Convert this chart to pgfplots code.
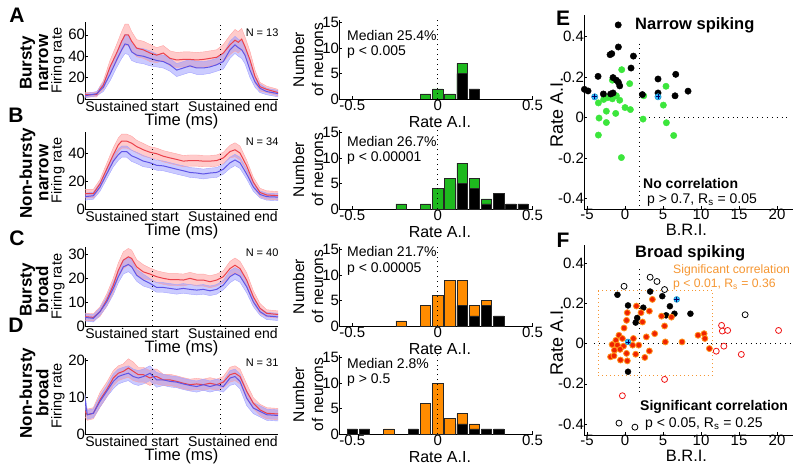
\documentclass[border=0pt]{standalone}
\usepackage{fontspec}
\setmainfont{Liberation Sans}
\usepackage{pgfplots}
\usepackage{pgfplotstable}
\pgfplotsset{compat=1.18}
\usepgfplotslibrary{fillbetween}

\definecolor{lred}{RGB}{235,65,75}
\definecolor{lblue}{RGB}{95,85,230}
\definecolor{bred}{RGB}{255,140,140}
\definecolor{bblue}{RGB}{140,140,255}
\definecolor{hgreen}{RGB}{30,185,30}
\definecolor{horange}{RGB}{255,140,0}
\definecolor{sgreen}{RGB}{60,230,60}
\definecolor{scyan}{RGB}{40,190,255}
\definecolor{sred}{RGB}{240,35,0}
\definecolor{sorange}{RGB}{255,150,30}
\definecolor{ored}{RGB}{240,20,20}
\definecolor{txtorange}{RGB}{245,150,50}

\pgfplotstableread{
x r re b be
255 4 2 3 2
290 4 2 5 2
300 9 3 8 3
310 13 4 11 4
330 30 6 23 6
350 43 8 36.5 7
365 54 9 46 8
375 60 10 51.5 9
385 60 10 50.6 9
395 54 9 44 8
410 47.5 8 41 7
430 46 8 40 7
450 43 8 38 7
470 41 7 36 6
490 43 7 35 6
510 38 7 32 6
530 36.5 7 27 6
550 37 7 29 6
570 37 7 31 6
590 36.5 7 29 6
610 37 7 29 6
630 38 7 30 6
650 39 7 32 6
670 43 8 35 7
690 50.6 9 46 8
705 55 10 50.6 8
715 53 10 48 8
725 56 10 46 8
735 49 9 41 8
750 36.5 8 27 7
765 21 6 16 5
780 11.5 4 10 4
800 9 3 7 3
834 6 3 5 3
}\tA

\pgfplotstableread{
x r re b be
255 11 3 8.8 2.5
280 11 3 9.5 2.5
300 18 3 15.7 3
320 28.4 4 25 3.5
340 38.8 5 34.2 4
355 45.8 5 38.8 4
365 48.5 5 41 4
380 48.5 5 41 4
395 47 5 38 4
410 44.6 4.5 36.5 4
430 42.3 4.5 34.2 4
450 40.5 4 33 3.5
470 39.5 4 31.2 3.5
490 37.7 4 30.8 3.5
510 36.5 4 29.6 3.5
530 35.4 4 28.4 3.5
550 34.2 4 27.3 3.5
570 34.6 4 26.1 3.5
590 34.6 4 25.7 3.5
610 34.2 4 25 3.5
630 34.2 4 25.7 3.5
650 34.6 4 26.1 3.5
670 36.5 4 28.4 3.5
690 41 4.5 33 4
705 42.3 5 35 4
720 40 5 33 4
740 30.8 4 25 3.5
760 19.2 3.5 15.7 3
780 11.8 3 10.4 2.5
800 10 3 8.8 2.5
834 9.5 3 8.5 2.5
}\tB

\pgfplotstableread{
x r re b be
255 3.9 1.5 3.6 1.5
280 3.6 1.5 3.2 1.5
300 6 2 6 1.5
320 10.8 2.5 10.1 2
340 17 3 15.7 2.5
355 23.3 3 20.6 2.5
370 27.5 3.5 24.7 3
385 28.9 3.5 25.7 3
395 28.2 3.5 24.7 3
410 24.7 3 21.2 2.5
430 22.6 3 19.2 2.5
450 21.7 2.5 17.8 2
470 20.6 2.5 16.1 2
490 19.9 2.5 16.1 2
510 19.4 2.5 15.7 2
530 19.4 2.5 15.3 2
550 19.2 2.5 15.7 2
570 19.9 2.5 15.3 2
590 19.2 2.5 15 2
610 19.2 2.5 15.3 2
630 18.5 2.5 14.7 2
650 19.2 2.5 15.3 2
670 20.6 2.5 17.1 2
690 24 3 20.6 2.5
705 25.4 3 21.9 2.5
720 24 3 20.8 2.5
740 19.2 3 16.4 2.5
760 12.2 2.5 10.1 2
780 7.4 2 6 1.5
800 5.3 1.5 4.2 1.5
834 4.8 1.5 3.8 1.5
}\tC

\pgfplotstableread{
x r re b be
255 6.1 1.5 9.2 1.5
262 5.2 1.5 5.2 1.2
280 5.6 1.5 5.6 1.2
300 9.2 2 8.8 1.5
320 11.9 2 11.5 1.5
340 15.1 2 14.2 2
355 16.4 2 15.5 2
370 16.9 2 16 2
385 17.8 2.5 16.4 2
400 16.9 2.5 15.5 2
415 16 2 15.1 2
430 16 2 15.5 2
450 15.1 2 16.4 2
460 15.5 2 15.5 2
470 15.5 2 14.6 2
490 14.6 1.5 14.6 1.5
510 14.6 1.5 14.2 1.5
530 14.2 1.5 14 1.5
550 13.7 1.5 13.5 1.5
570 13.3 1.5 13.1 1.5
590 13.5 1.5 12.8 1.5
610 13.3 1.5 13.3 1.5
630 13.7 1.5 12.8 1.5
650 13.3 1.5 13.3 1.5
670 14 1.5 12.8 1.5
690 16 2 15.1 2
705 16.4 2 15.5 2
720 15.5 2 14.2 2
740 11.5 2 9.7 2
760 8.3 1.5 7 1.5
780 6.5 1.5 6.1 1.5
800 5.6 1.5 5.2 1.5
834 5.4 1.5 5 1.5
}\tD

\newcommand{\tcplot}[2]{%
  \addplot[name path=ru#2, draw=bred!80, line width=0.4pt] table[x=x, y expr=\thisrow{r}+\thisrow{re}]{#1};
  \addplot[name path=rl#2, draw=bred!80, line width=0.4pt] table[x=x, y expr=\thisrow{r}-\thisrow{re}]{#1};
  \addplot[fill=bred, fill opacity=0.45, draw=none] fill between[of=ru#2 and rl#2];
  \addplot[name path=bu#2, draw=bblue!80, line width=0.4pt] table[x=x, y expr=\thisrow{b}+\thisrow{be}]{#1};
  \addplot[name path=bl#2, draw=bblue!80, line width=0.4pt] table[x=x, y expr=\thisrow{b}-\thisrow{be}]{#1};
  \addplot[fill=bblue, fill opacity=0.45, draw=none] fill between[of=bu#2 and bl#2];
  \addplot[lred, line width=1pt] table[x=x, y=r]{#1};
  \addplot[lblue, line width=1pt] table[x=x, y=b]{#1};
}

\tikzset{dotl/.style={black, line width=0.9pt, dash pattern=on 0.9pt off 4pt}}

\pgfplotsset{
  common/.style={scale only axis, anchor=south west, axis lines=left,
    axis line style={-, line width=0.7pt}, tick align=inside, major tick length=3pt,
    tick style={line width=0.6pt, black},
    tick label style={font=\fontsize{15}{18}\selectfont},
    /pgf/number format/assume math mode=true,
    yticklabel style={xshift=3.5pt}, xticklabel style={yshift=1pt}},
  tc/.style={common, width=193pt, xmin=255, xmax=834, ymin=0,
    xtick={396,699}, xticklabels={Sustained start, Sustained end},
    x tick style={draw=none}, xticklabel style={yshift=0pt, font=\fontsize{14}{16}\selectfont},
    xlabel={Time (ms)}, ylabel={Firing rate},
    xlabel style={font=\fontsize{16.5}{20}\selectfont, at={(axis description cs:0.5,0)}, anchor=center, yshift=-22.4pt},
    ylabel style={font=\fontsize{14.5}{17}\selectfont, at={(axis description cs:-0.14,0.5)}, anchor=center}},
  hist/.style={common, width=194pt, height=79pt, xmin=-0.578, xmax=0.558, ymin=0, ymax=15.5,
    ytick={0,5,10,15}, xtick={-0.5,0,0.555}, xticklabels={-0.5,0,0.5},
    xticklabel style={yshift=1.5pt},
    xlabel={Rate A.I.}, ylabel={Number\\of neurons},
    xlabel style={font=\fontsize{16}{19}\selectfont, at={(axis description cs:0.52,0)}, anchor=center, yshift=-23pt},
    ylabel style={font=\fontsize{15.5}{19}\selectfont, align=center, at={(axis description cs:-0.16,0.5)}, anchor=center}},
  sc/.style={common, width=209pt, xmin=-5.4, xmax=22.1,
    xtick={-5,0,5,10,15,20}, ytick={-0.4,-0.2,0,0.2,0.4}, clip=false,
    xlabel={B.R.I.}, ylabel={Rate A.I.}, xticklabel style={yshift=2.5pt},
    xlabel style={font=\fontsize{16.5}{20}\selectfont, at={(axis description cs:0.49,0)}, anchor=center, yshift=-21pt},
    ylabel style={font=\fontsize{18}{21}\selectfont, at={(axis description cs:-0.13,0.5)}, anchor=center}},
  hbar/.style={ybar, bar width=0.06, bar shift=0pt, draw=black!85, line width=0.6pt},
}

\begin{document}
\begin{tikzpicture}

% ---------------- time courses ----------------
\begin{axis}[tc, at={(85pt,373pt)}, height=77pt, ymax=72, ytick={0,20,40,60}]
\tcplot{\tA}{a}
\addplot[dotl] coordinates {(458,0) (458,72)};
\addplot[dotl] coordinates {(660,0) (660,72)};
\end{axis}
\begin{axis}[tc, at={(85pt,263pt)}, height=77pt, ymax=55, ytick={0,20,40}]
\tcplot{\tB}{b}
\addplot[dotl] coordinates {(458,0) (458,55)};
\addplot[dotl] coordinates {(660,0) (660,55)};
\end{axis}
\begin{axis}[tc, at={(85pt,146pt)}, height=79pt, ymax=33, ytick={0,10,20,30}]
\tcplot{\tC}{c}
\addplot[dotl] coordinates {(458,0) (458,33)};
\addplot[dotl] coordinates {(660,0) (660,33)};
\end{axis}
\begin{axis}[tc, at={(85pt,38pt)}, height=76pt, ymax=20.5, ytick={0,10,20}]
\tcplot{\tD}{d}
\addplot[dotl] coordinates {(458,0) (458,20.5)};
\addplot[dotl] coordinates {(660,0) (660,20.5)};
\end{axis}

% ---------------- histograms ----------------
\begin{axis}[hist, at={(339pt,373pt)}]
\addplot[hbar, fill=hgreen] coordinates {(-0.0714,1) (0,2) (0.0714,1) (0.1429,7)};
\addplot[hbar, fill=black] coordinates {(0.1429,5) (0.2143,2)};
\addplot[dotl] coordinates {(0,0) (0,15.5)};
\end{axis}
\begin{axis}[hist, at={(339pt,263pt)}]
\addplot[hbar, fill=hgreen] coordinates {(-0.2143,1) (-0.0714,1) (0,4) (0.0714,6) (0.1429,9) (0.2143,6) (0.2857,2)};
\addplot[hbar, fill=black] coordinates {(0.1429,5) (0.2143,4) (0.2857,1) (0.3571,3) (0.4286,1) (0.5,1)};
\addplot[dotl] coordinates {(0,0) (0,15.5)};
\end{axis}
\begin{axis}[hist, at={(339pt,146pt)}]
\addplot[hbar, fill=horange] coordinates {(-0.2143,1) (-0.0714,4) (0,6) (0.0714,9) (0.1429,9) (0.2143,4) (0.2857,5)};
\addplot[hbar, fill=black] coordinates {(0.1429,4) (0.2143,2) (0.2857,4) (0.3571,2)};
\addplot[dotl] coordinates {(0,0) (0,15.5)};
\end{axis}
\begin{axis}[hist, at={(339pt,38pt)}]
\addplot[hbar, fill=horange] coordinates {(-0.2857,1) (-0.0714,6) (0,10) (0.0714,3) (0.1429,4) (0.2143,2)};
\addplot[hbar, fill=black] coordinates {(-0.5,1) (-0.4286,1) (-0.1429,1) (0.1429,2) (0.2143,1) (0.2857,1) (0.3571,1)};
\addplot[dotl] coordinates {(0,0) (0,15.5)};
\end{axis}

% ---------------- scatter E ----------------
\begin{axis}[sc, at={(584pt,263pt)}, height=194pt, ymin=-0.452, ymax=0.506]
\addplot[dotl] coordinates {(1.9,0.365) (1.9,-0.44)};
\addplot[dotl] coordinates {(1.9,0) (21.8,0)};
\addplot[only marks, mark=*, mark size=3.2pt, mark options={fill=sgreen, draw=sgreen}] coordinates {
(-0.44,0.236) (0.61,0.167) (-1.67,0.184) (-3.51,0.072) (-2.81,0.089) (-2.28,0.098)
(-1.67,0.092) (-0.70,0.085) (-1.14,0.107) (-2.46,0.031) (-1.23,0.020) (0.0,0.049)
(0.70,0.039) (-3.42,-0.003) (-2.46,-0.025) (-3.51,-0.087) (-0.48,-0.198) (2.37,-0.008)
(2.46,0.107) (5.04,0.061) (5.39,0.154) (5.44,-0.026) (6.40,-0.089)};
\addplot[only marks, mark=*, mark size=3.2pt, mark options={fill=black, draw=black}] coordinates {
(-0.88,0.348) (-1.97,0.310) (-1.75,0.315) (1.10,0.303) (0.79,0.244) (-3.55,0.203)
(-1.58,0.197) (-1.14,0.184) (-0.88,0.174) (-0.70,0.156) (-5.35,0.139) (-4.87,0.131)
(-2.85,0.116) (-1.89,0.116) (-1.58,0.121) (2.28,0.113) (4.34,0.190) (4.34,0.121)
(6.67,0.213) (6.58,0.107) (8.29,0.130)};
\addplot[only marks, mark=*, mark size=3.2pt, mark options={fill=scyan, draw=scyan!70!black}] coordinates {(-3.99,0.102) (4.34,0.102)};
\addplot[only marks, mark=+, mark size=2.4pt, mark options={draw=blue!40!black, line width=0.8pt}] coordinates {(-3.99,0.102) (4.34,0.102)};
\addplot[only marks, mark=*, mark size=3.2pt, mark options={fill=black, draw=black}] coordinates {(-0.9,0.457)};
\end{axis}

% ---------------- scatter F ----------------
\begin{axis}[sc, at={(584pt,37pt)}, height=190pt, ymin=-0.454, ymax=0.489]
\addplot[dotl] coordinates {(1.9,0.37) (1.9,-0.25)};
\addplot[dotl] coordinates {(-4.1,0) (21.8,0)};
\addplot[txtorange, line width=0.9pt, dash pattern=on 0.9pt off 3pt] coordinates {(-3.5,-0.156) (11.5,-0.156) (11.5,0.263) (-3.5,0.263) (-3.5,-0.156)};
\addplot[only marks, mark=*, mark size=3pt, mark options={fill=white, draw=black, line width=0.8pt}] coordinates {
(-0.13,0.284) (3.3,0.329) (4.2,0.308) (5.2,0.268) (15.8,0.143) (-0.8,-0.395) (1.3,-0.415)};
\addplot[only marks, mark=*, mark size=3pt, mark options={fill=white, draw=ored, line width=0.8pt}] coordinates {
(12.7,0.09) (12.8,0.062) (13.5,0.065) (13.0,-0.013) (12.0,-0.038) (15.3,-0.054) (20.2,0.065) (5.2,-0.178) (-0.35,-0.259)};
\addplot[only marks, mark=*, mark size=3pt, mark options={fill=black, draw=black}] coordinates {
(-1.0,0.242) (0.39,0.189) (3.3,0.258) (4.9,0.235) (2.4,0.178) (5.9,0.185) (1.6,0.127) (1.4,0.104) (5.4,0.14) (6.5,0.148) (8.6,0.148) (0.39,-0.140)};
\addplot[only marks, mark=*, mark size=3pt, mark options={fill=sred, draw=sorange, line width=0.8pt}] coordinates {
(3.6,0.219) (1.5,0.186) (0.3,0.153) (2.1,0.153) (3.2,0.161) (0.2,0.115) (2.3,0.107) (-0.13,0.077)
(4.8,0.136) (6.1,0.131) (5.2,0.087) (3.9,0.049) (2.8,0.033) (5.3,0.008) (7.5,0.008) (9.6,0.041)
(10.4,0.049) (10.5,0.025) (11.1,-0.025) (-0.8,0.041) (-0.35,0.025) (-1.2,0.016) (-1.7,-0.005)
(-1.0,-0.008) (1.1,0.025) (-0.2,-0.013) (1.0,-0.008) (1.8,-0.008) (-1.4,-0.033) (-0.65,-0.029)
(-1.9,-0.066) (-0.6,-0.082) (0.2,-0.049) (0.3,-0.086) (1.4,-0.053) (2.6,-0.069) (3.2,-0.037) (-1.45,-0.061)};
\addplot[only marks, mark=*, mark size=3pt, mark options={fill=scyan, draw=scyan!70!black}] coordinates {(6.8,0.219) (0.39,0.008)};
\addplot[only marks, mark=+, mark size=2.3pt, mark options={draw=blue!40!black, line width=0.8pt}] coordinates {(6.8,0.219) (0.39,0.008)};
\end{axis}

% ---------------- texts ----------------
\begin{scope}[font=\bfseries\fontsize{21}{21}\selectfont]
\node at (17pt,457pt) {A};
\node at (16pt,357pt) {B};
\node at (17pt,234pt) {C};
\node at (16pt,147pt) {D};
\node at (563pt,454pt) {E};
\node at (563pt,232pt) {F};
\end{scope}
\begin{scope}[font=\bfseries\fontsize{17}{16.5}\selectfont]
\node[rotate=90, align=center, inner sep=0pt] at (34pt,409pt) {Bursty\\narrow};
\node[rotate=90, align=center, inner sep=0pt] at (34pt,299pt) {Non-bursty\\narrow};
\node[rotate=90, align=center, inner sep=0pt] at (34pt,182pt) {Bursty\\broad};
\node[rotate=90, align=center, inner sep=0pt] at (34pt,79pt) {Non-bursty\\broad};
\end{scope}
\begin{scope}[font=\fontsize{11}{13}\selectfont]
\node[anchor=east] at (282pt,439pt) {N = 13};
\node[anchor=east] at (282pt,330pt) {N = 34};
\node[anchor=east] at (282pt,219pt) {N = 40};
\node[anchor=east] at (282pt,109pt) {N = 31};
\end{scope}
\begin{scope}[font=\fontsize{14}{16}\selectfont]
\node[anchor=west, inner sep=0pt] at (347pt,437pt) {Median 25.4\%};
\node[anchor=west, inner sep=0pt] at (347pt,420pt) {p < 0.005};
\node[anchor=west, inner sep=0pt] at (347pt,330.3pt) {Median 26.7\%};
\node[anchor=west, inner sep=0pt] at (347pt,313.7pt) {p < 0.00001};
\node[anchor=west, inner sep=0pt] at (347pt,220.3pt) {Median 21.7\%};
\node[anchor=west, inner sep=0pt] at (347pt,202.7pt) {p < 0.00005};
\node[anchor=west, inner sep=0pt] at (347pt,108.7pt) {Median 2.8\%};
\node[anchor=west, inner sep=0pt] at (347pt,92pt) {p > 0.5};
\node[anchor=west, inner sep=0pt] at (647pt,272pt) {p > 0.7, R\textsubscript{s} = 0.05};
\node[anchor=west, inner sep=0pt] at (645pt,47.7pt) {p < 0.05, R\textsubscript{s} = 0.25};
\end{scope}
\node[anchor=west, inner sep=0pt, font=\bfseries\fontsize{16.5}{18}\selectfont] at (635pt,447pt) {Narrow spiking};
\node[anchor=west, inner sep=0pt, font=\bfseries\fontsize{14}{16}\selectfont] at (643pt,289pt) {No correlation};
\node[anchor=west, inner sep=0pt, font=\bfseries\fontsize{16.5}{18}\selectfont] at (635pt,219pt) {Broad spiking};
\node[anchor=west, inner sep=0pt, font=\fontsize{12.2}{14}\selectfont, text=txtorange] at (673pt,202pt) {Significant correlation};
\node[anchor=west, inner sep=0pt, font=\fontsize{12.2}{14}\selectfont, text=txtorange] at (673pt,187pt) {p < 0.01, R\textsubscript{s} = 0.36};
\node[anchor=west, inner sep=0pt, font=\bfseries\fontsize{14}{16}\selectfont] at (640pt,65pt) {Significant correlation};

\pgfresetboundingbox
\path[use as bounding box] (0,0) rectangle (800pt,472pt);
\end{tikzpicture}
\end{document}
